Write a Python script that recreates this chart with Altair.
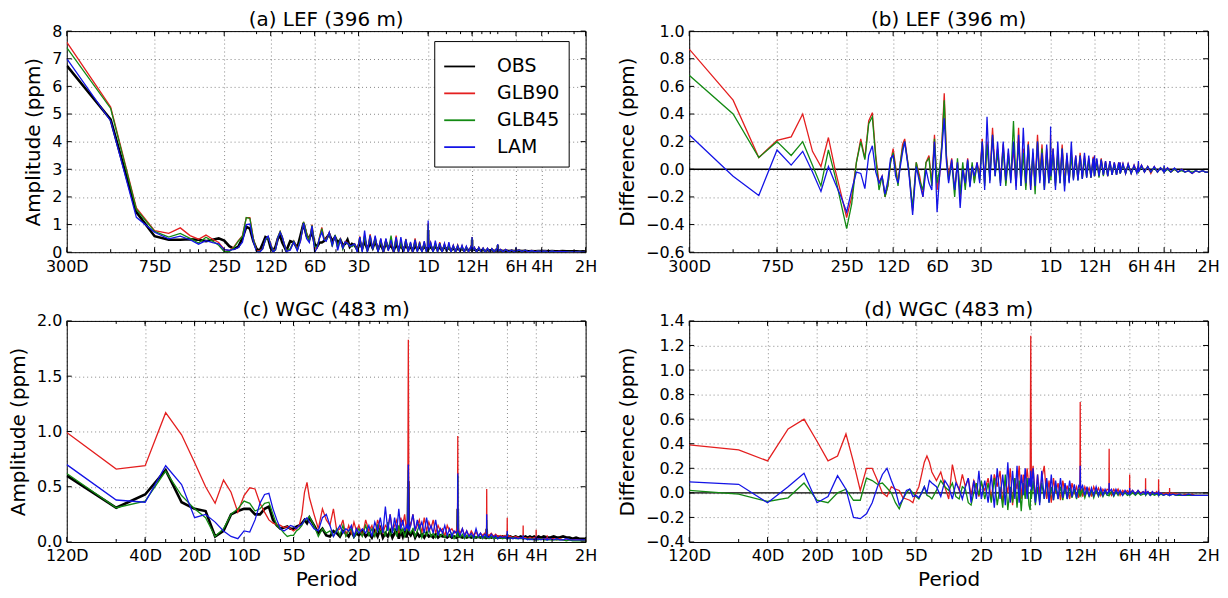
import altair as alt
import pandas as pd

FONT = "DejaVu Sans"
SERIES = ["OBS", "GLB90", "GLB45", "LAM"]
COLORS = ["#000000", "#e41f1f", "#138a13", "#1414e6"]
LINE_W = {"OBS": 2.6, "GLB90": 1.3, "GLB45": 1.3, "LAM": 1.3}

# ---------------- x tick definitions (harmonic number k on a log axis) ----------------
TOP_TICK_K = [1, 4, 12, 25, 50, 100, 300, 600, 1200, 1800, 3600]
TOP_TICK_LABELS = ["300D", "75D", "25D", "12D", "6D", "3D", "1D", "12H", "6H", "4H", "2H"]
BOT_TICK_K = [1, 3, 6, 12, 24, 60, 120, 240, 480, 720, 1440]
BOT_TICK_LABELS = ["120D", "40D", "20D", "10D", "5D", "2D", "1D", "12H", "6H", "4H", "2H"]
MINOR_BASE = [2, 3, 4, 5, 6, 7, 8, 9]

# ---------------- LEF (top row), record 300 days ----------------
K_TOP = ([1, 2, 3, 4, 5, 6, 7, 8, 9, 10, 11, 12, 13, 14, 15, 16, 17, 18, 19, 20, 21, 22, 23, 24, 25, 26, 27, 28, 29, 30]
         + [32, 34, 36, 38, 40, 42, 44, 46, 48, 50, 52, 54, 56, 58, 60]
         + [63, 66, 69, 72, 75, 78, 81, 84, 87, 90]
         + [94, 98, 102, 106, 110, 115, 120, 125, 130]
         + [136, 142, 148, 154, 160, 167, 174, 181, 188, 195]
         + [203, 211, 219, 227, 235, 244, 253, 262, 272, 282, 292]
         + [299, 300, 301]
         + [312, 324, 336, 348, 360, 374, 388, 402, 416, 430]
         + [446, 462, 478, 495, 512, 530, 548, 567, 587]
         + [599, 600, 601]
         + [622, 644, 667, 690, 714, 739, 765, 792, 820, 849, 879]
         + [899, 900, 901]
         + [940, 980, 1020, 1070, 1120, 1170]
         + [1199, 1200, 1201]
         + [1260, 1320, 1390, 1460, 1540, 1620, 1700]
         + [1799, 1800, 1801]
         + [1900, 2000, 2120, 2240, 2370, 2500, 2650, 2800, 2960, 3130, 3300, 3450, 3600])

A_OBS = ([6.75, 4.8, 1.45, 0.58, 0.45, 0.45, 0.47, 0.45, 0.4, 0.45, 0.5, 0.42, 0.22, 0.12, 0.2, 0.5, 0.92, 0.85, 0.4, 0.12, 0.05, 0.3, 0.55, 0.5, 0.15, 0.05, 0.2, 0.5, 0.6, 0.35]
         + [0.05, 0.4, 0.35, 0.15, 0.6, 1.05, 0.6, 0.5, 0.75, 0.3, 0.2, 0.35, 0.35, 0.4, 0.5]
         + [0.65, 0.4, 0.55, 0.35, 0.45, 0.25, 0.3, 0.45, 0.2, 0.3]
         + [0.25, 0.1, 0.35, 0.15, 0.4, 0.1, 0.35, 0.15, 0.4]
         + [0.1, 0.3, 0.05, 0.35, 0.15, 0.25, 0.05, 0.3, 0.1, 0.25]
         + [0.08, 0.28, 0.1, 0.22, 0.05, 0.25, 0.1, 0.2, 0.08, 0.22, 0.1]
         + [0.15, 0.8, 0.12]
         + [0.2, 0.08, 0.22, 0.1, 0.18, 0.06, 0.2, 0.1, 0.16, 0.07]
         + [0.15, 0.06, 0.14, 0.08, 0.13, 0.05, 0.12, 0.07, 0.11]
         + [0.1, 0.45, 0.08]
         + [0.1, 0.05, 0.1, 0.06, 0.09, 0.04, 0.08, 0.05, 0.08, 0.04, 0.07]
         + [0.06, 0.25, 0.06]
         + [0.06, 0.04, 0.06, 0.04, 0.05, 0.04]
         + [0.05, 0.1, 0.05]
         + [0.05, 0.04, 0.05, 0.03, 0.04, 0.03, 0.04]
         + [0.04, 0.07, 0.04]
         + [0.04, 0.03, 0.04, 0.03, 0.03, 0.04, 0.03, 0.03, 0.03, 0.03, 0.02, 0.03, 0.02])

A_GLB90 = ([7.6, 5.25, 1.6, 0.78, 0.68, 0.88, 0.6, 0.47, 0.62, 0.47, 0.35, 0.1, 0.05, 0.2, 0.42, 0.6, 1.25, 1.25, 0.5, 0.05, 0.05, 0.12, 0.45, 0.55, 0.3, 0.05, 0.12, 0.55, 0.75, 0.55]
           + [0.05, 0.1, 0.4, 0.12, 0.4, 1.1, 0.7, 0.4, 1.0, 0.15, 0.15, 0.55, 0.9, 0.5, 0.45]
           + [0.72, 0.25, 0.6, 0.15, 0.47, 0.13, 0.38, 0.35, 0.23, 0.22]
           + [0.3, 0.05, 0.57, 0.05, 0.6, 0.05, 0.65, 0.13, 0.55]
           + [0.02, 0.48, 0.0, 0.47, 0.1, 0.4, 0.0, 0.6, 0.0, 0.4]
           + [0.0, 0.48, 0.0, 0.32, 0.0, 0.5, 0.05, 0.38, 0.0, 0.37, 0.02]
           + [0.25, 1.05, 0.07]
           + [0.35, 0.0, 0.34, 0.02, 0.36, 0.0, 0.3, 0.02, 0.28, 0.01]
           + [0.25, 0.0, 0.26, 0.02, 0.23, 0.0, 0.2, 0.01, 0.2]
           + [0.06, 0.55, 0.03]
           + [0.17, 0.0, 0.18, 0.02, 0.15, 0.0, 0.14, 0.01, 0.13, 0.0, 0.12]
           + [0.03, 0.28, 0.03]
           + [0.1, 0.01, 0.1, 0.01, 0.08, 0.02]
           + [0.08, 0.15, 0.03]
           + [0.08, 0.02, 0.07, 0.0, 0.06, 0.01, 0.05]
           + [0.02, 0.09, 0.02]
           + [0.05, 0.01, 0.04, 0.01, 0.03, 0.02, 0.02, 0.0, 0.02, 0.01, 0.01, 0.01, 0.0])

A_GLB45 = ([7.4, 5.2, 1.55, 0.75, 0.55, 0.68, 0.5, 0.33, 0.54, 0.4, 0.25, 0.02, 0.02, 0.17, 0.4, 0.57, 1.25, 1.22, 0.48, 0.02, 0.02, 0.12, 0.43, 0.55, 0.27, 0.05, 0.08, 0.55, 0.75, 0.55]
           + [0.05, 0.12, 0.4, 0.07, 0.45, 1.1, 0.68, 0.38, 0.97, 0.2, 0.2, 0.53, 0.85, 0.48, 0.42]
           + [0.7, 0.2, 0.63, 0.17, 0.5, 0.1, 0.36, 0.33, 0.25, 0.2]
           + [0.29, 0.02, 0.55, 0.03, 0.58, 0.02, 0.6, 0.1, 0.52]
           + [0.0, 0.45, 0.0, 0.45, 0.07, 0.6, 0.0, 0.5, 0.0, 0.37]
           + [0.0, 0.46, 0.0, 0.34, 0.0, 0.45, 0.02, 0.35, 0.0, 0.34, 0.0]
           + [0.23, 1.0, 0.04]
           + [0.32, 0.0, 0.32, 0.0, 0.33, 0.0, 0.28, 0.01, 0.26, 0.0]
           + [0.23, 0.0, 0.24, 0.01, 0.21, 0.0, 0.19, 0.01, 0.18]
           + [0.05, 0.53, 0.03]
           + [0.16, 0.0, 0.17, 0.01, 0.14, 0.0, 0.13, 0.01, 0.12, 0.0, 0.11]
           + [0.03, 0.27, 0.03]
           + [0.09, 0.01, 0.09, 0.01, 0.07, 0.02]
           + [0.07, 0.14, 0.03]
           + [0.07, 0.02, 0.07, 0.01, 0.05, 0.01, 0.05]
           + [0.02, 0.09, 0.02]
           + [0.04, 0.01, 0.04, 0.01, 0.02, 0.02, 0.02, 0.01, 0.02, 0.01, 0.01, 0.01, 0.0])

A_LAM = ([7.0, 4.75, 1.26, 0.72, 0.48, 0.58, 0.45, 0.29, 0.42, 0.35, 0.3, 0.09, 0.07, 0.1, 0.17, 0.36, 1.0, 1.02, 0.38, 0.02, 0.0, 0.12, 0.47, 0.58, 0.25, 0.0, 0.1, 0.52, 0.72, 0.55]
         + [0.03, 0.07, 0.37, 0.05, 0.4, 1.05, 0.5, 0.35, 0.95, 0.0, 0.15, 0.5, 0.72, 0.45, 0.4]
         + [0.72, 0.25, 0.6, 0.07, 0.45, 0.15, 0.37, 0.32, 0.22, 0.25]
         + [0.3, 0.0, 0.55, 0.0, 0.78, 0.0, 0.6, 0.1, 0.6]
         + [0.0, 0.5, 0.0, 0.5, 0.05, 0.45, 0.0, 0.55, 0.0, 0.55]
         + [0.0, 0.46, 0.0, 0.37, 0.0, 0.45, 0.0, 0.32, 0.0, 0.4, 0.0]
         + [0.25, 1.15, 0.07]
         + [0.35, 0.0, 0.42, 0.0, 0.33, 0.0, 0.32, 0.0, 0.36, 0.0]
         + [0.25, 0.0, 0.24, 0.01, 0.25, 0.0, 0.22, 0.01, 0.19]
         + [0.05, 0.55, 0.04]
         + [0.18, 0.0, 0.17, 0.02, 0.15, 0.0, 0.14, 0.01, 0.13, 0.0, 0.12]
         + [0.03, 0.3, 0.03]
         + [0.1, 0.01, 0.1, 0.01, 0.08, 0.01]
         + [0.08, 0.18, 0.03]
         + [0.08, 0.02, 0.07, 0.01, 0.06, 0.01, 0.05]
         + [0.02, 0.1, 0.02]
         + [0.05, 0.01, 0.05, 0.01, 0.03, 0.02, 0.02, 0.0, 0.02, 0.01, 0.01, 0.01, 0.01])

B_GLB90 = ([0.87, 0.5, 0.085, 0.21, 0.235, 0.4, 0.13, 0.02, 0.23, 0.0, -0.18, -0.35, -0.2, 0.05, 0.22, 0.08, 0.35, 0.41, 0.1, -0.1, -0.05, -0.2, -0.12, 0.05, 0.15, 0.02, -0.1, 0.05, 0.18, 0.22]
           + [0.0, -0.3, 0.05, -0.05, -0.2, 0.05, 0.1, -0.1, 0.25, -0.15, -0.05, 0.2, 0.55, 0.1, -0.05]
           + [0.08, -0.15, 0.05, -0.2, 0.02, -0.12, 0.08, -0.1, 0.03, -0.08]
           + [0.05, -0.05, 0.22, -0.1, 0.2, -0.05, 0.3, -0.02, 0.15]
           + [-0.08, 0.18, -0.1, 0.12, -0.05, 0.15, -0.12, 0.3, -0.1, 0.15]
           + [-0.12, 0.2, -0.15, 0.1, -0.1, 0.25, -0.05, 0.18, -0.12, 0.15, -0.08]
           + [0.1, 0.25, -0.05]
           + [0.15, -0.1, 0.12, -0.08, 0.18, -0.1, 0.1, -0.08, 0.12, -0.06]
           + [0.1, -0.07, 0.12, -0.06, 0.1, -0.05, 0.08, -0.06, 0.09]
           + [-0.04, 0.1, -0.05]
           + [0.07, -0.05, 0.08, -0.04, 0.06, -0.05, 0.06, -0.04, 0.05, -0.04, 0.05]
           + [-0.03, 0.05, -0.03]
           + [0.04, -0.03, 0.04, -0.03, 0.03, -0.02]
           + [0.03, 0.05, -0.02]
           + [0.03, -0.02, 0.02, -0.03, 0.02, -0.02, 0.01]
           + [-0.02, 0.02, -0.02]
           + [0.01, -0.02, 0.0, -0.02, 0.0, -0.02, -0.01, -0.03, -0.01, -0.02, -0.01, -0.02, -0.02])

B_GLB45 = ([0.68, 0.4, 0.085, 0.2, 0.1, 0.2, 0.03, -0.12, 0.14, -0.05, -0.25, -0.43, -0.25, 0.05, 0.2, 0.07, 0.33, 0.38, 0.08, -0.15, -0.05, -0.2, -0.12, 0.05, 0.12, 0.0, -0.12, 0.05, 0.15, 0.2]
           + [0.0, -0.28, 0.05, -0.08, -0.15, 0.05, 0.08, -0.12, 0.22, -0.1, 0.0, 0.18, 0.5, 0.08, -0.08]
           + [0.05, -0.2, 0.08, -0.18, 0.05, -0.15, 0.06, -0.12, 0.05, -0.1]
           + [0.04, -0.08, 0.2, -0.12, 0.18, -0.08, 0.25, -0.05, 0.12]
           + [-0.1, 0.15, -0.12, 0.1, -0.08, 0.35, -0.1, 0.2, -0.12, 0.12]
           + [-0.15, 0.18, -0.12, 0.12, -0.18, 0.2, -0.08, 0.15, -0.15, 0.12, -0.1]
           + [0.08, 0.2, -0.08]
           + [0.12, -0.12, 0.1, -0.1, 0.15, -0.12, 0.08, -0.09, 0.1, -0.07]
           + [0.08, -0.08, 0.1, -0.07, 0.08, -0.06, 0.07, -0.06, 0.07]
           + [-0.05, 0.08, -0.05]
           + [0.06, -0.06, 0.07, -0.05, 0.05, -0.05, 0.05, -0.04, 0.04, -0.04, 0.04]
           + [-0.03, 0.04, -0.03]
           + [0.03, -0.03, 0.03, -0.03, 0.02, -0.02]
           + [0.02, 0.04, -0.02]
           + [0.02, -0.02, 0.02, -0.02, 0.01, -0.02, 0.01]
           + [-0.02, 0.02, -0.02]
           + [0.0, -0.02, 0.0, -0.02, -0.01, -0.02, -0.01, -0.02, -0.01, -0.02, -0.01, -0.02, -0.02])

B_LAM = ([0.25, -0.05, -0.19, 0.14, 0.03, 0.13, -0.02, -0.16, 0.02, -0.1, -0.2, -0.31, -0.15, -0.02, -0.03, -0.14, 0.1, 0.17, -0.02, -0.1, -0.05, -0.18, -0.08, 0.08, 0.1, -0.05, -0.1, 0.02, 0.12, 0.2]
         + [-0.02, -0.33, 0.02, -0.1, -0.2, 0.0, -0.1, -0.15, 0.2, -0.31, -0.05, 0.15, 0.37, 0.05, -0.1]
         + [0.07, -0.15, 0.05, -0.28, 0.0, -0.1, 0.07, -0.13, 0.02, -0.05]
         + [0.05, -0.1, 0.2, -0.15, 0.38, -0.1, 0.25, -0.05, 0.2]
         + [-0.12, 0.2, -0.08, 0.15, -0.1, 0.2, -0.15, 0.25, -0.12, 0.3]
         + [-0.1, 0.18, -0.15, 0.15, -0.12, 0.2, -0.1, 0.12, -0.15, 0.18, -0.1]
         + [0.1, 0.31, -0.05]
         + [0.15, -0.15, 0.2, -0.1, 0.15, -0.16, 0.12, -0.1, 0.2, -0.08]
         + [0.1, -0.08, 0.1, -0.07, 0.12, -0.06, 0.1, -0.06, 0.08]
         + [-0.05, 0.1, -0.04]
         + [0.08, -0.05, 0.07, -0.04, 0.06, -0.05, 0.06, -0.04, 0.05, -0.04, 0.05]
         + [-0.03, 0.05, -0.03]
         + [0.04, -0.03, 0.04, -0.03, 0.03, -0.03]
         + [0.03, 0.06, -0.02]
         + [0.03, -0.02, 0.02, -0.02, 0.02, -0.02, 0.01]
         + [-0.02, 0.03, -0.02]
         + [0.01, -0.02, 0.01, -0.02, 0.0, -0.02, -0.01, -0.03, -0.01, -0.02, -0.01, -0.02, -0.02])

# ---------------- WGC (bottom row), record 120 days ----------------
K_BOT = ([1, 2, 3, 4, 5, 6, 7, 8, 9, 10, 11, 12, 13, 14, 15, 16, 17, 18, 19, 20, 21, 22, 23, 24, 25, 26, 27, 28, 29, 30]
         + [32, 34, 36, 38, 40, 42, 44, 46, 48, 50, 52, 54, 56, 58, 60]
         + [63, 66, 69, 72, 75, 78, 81, 84, 87, 90, 93, 96, 99, 102, 105, 108, 111, 114, 117]
         + [119, 120, 121]
         + [124, 128, 132, 136, 140, 145, 150, 155, 160, 165, 170, 176, 182, 188, 194, 200, 207, 214, 221, 228, 235]
         + [239, 240, 241]
         + [248, 256, 264, 272, 281, 290, 300, 310, 320, 330, 340, 350]
         + [359, 360, 361]
         + [372, 384, 396, 408, 420, 435, 450, 465]
         + [479, 480, 481]
         + [500, 520, 540, 560, 580]
         + [599, 600, 601]
         + [620, 640, 660, 680, 700]
         + [719, 720, 721]
         + [745, 770, 800]
         + [839, 840, 841]
         + [880, 920, 960, 1000, 1050, 1100, 1150, 1200, 1260, 1320, 1380, 1440])

C_OBS = ([0.6, 0.31, 0.43, 0.65, 0.36, 0.3, 0.28, 0.05, 0.1, 0.25, 0.28, 0.3, 0.3, 0.25, 0.25, 0.3, 0.32, 0.2, 0.15, 0.12, 0.13, 0.14, 0.12, 0.12, 0.14, 0.15, 0.17, 0.2, 0.17, 0.22]
         + [0.15, 0.08, 0.12, 0.06, 0.05, 0.1, 0.08, 0.05, 0.1, 0.08, 0.05, 0.1, 0.05, 0.08, 0.06]
         + [0.1, 0.05, 0.08, 0.04, 0.1, 0.05, 0.12, 0.04, 0.08, 0.05, 0.1, 0.04, 0.08, 0.12, 0.03, 0.1, 0.05, 0.12, 0.04]
         + [0.1, 0.55, 0.08]
         + [0.06, 0.1, 0.04, 0.08, 0.05, 0.07, 0.04, 0.08, 0.05, 0.06, 0.04, 0.07, 0.04, 0.06, 0.05, 0.05, 0.04, 0.06, 0.04, 0.05, 0.04]
         + [0.05, 0.3, 0.05]
         + [0.05, 0.04, 0.05, 0.04, 0.05, 0.04, 0.05, 0.04, 0.05, 0.04, 0.05, 0.04]
         + [0.04, 0.12, 0.04]
         + [0.05, 0.04, 0.05, 0.04, 0.05, 0.04, 0.05, 0.04]
         + [0.04, 0.07, 0.04]
         + [0.05, 0.04, 0.05, 0.04, 0.05]
         + [0.04, 0.05, 0.04]
         + [0.05, 0.04, 0.05, 0.04, 0.05]
         + [0.04, 0.05, 0.04]
         + [0.05, 0.04, 0.05]
         + [0.04, 0.05, 0.04]
         + [0.04, 0.05, 0.04, 0.04, 0.05, 0.04, 0.04, 0.03, 0.04, 0.03, 0.03, 0.03])

C_GLB90 = ([0.99, 0.66, 0.69, 1.17, 0.97, 0.72, 0.5, 0.35, 0.56, 0.45, 0.27, 0.42, 0.49, 0.48, 0.35, 0.27, 0.2, 0.17, 0.16, 0.15, 0.13, 0.14, 0.12, 0.1, 0.12, 0.15, 0.25, 0.45, 0.54, 0.4]
           + [0.25, 0.12, 0.3, 0.2, 0.15, 0.3, 0.1, 0.12, 0.2, 0.05, 0.15, 0.08, 0.18, 0.1, 0.15]
           + [0.05, 0.2, 0.1, 0.15, 0.05, 0.2, 0.12, 0.08, 0.15, 0.12, 0.25, 0.1, 0.15, 0.2, 0.08, 0.22, 0.15, 0.25, 0.1]
           + [0.2, 1.83, 0.2]
           + [0.15, 0.25, 0.1, 0.15, 0.2, 0.08, 0.22, 0.1, 0.18, 0.12, 0.2, 0.08, 0.15, 0.1, 0.12, 0.05, 0.15, 0.1, 0.12, 0.08, 0.1]
           + [0.15, 0.96, 0.12]
           + [0.08, 0.12, 0.06, 0.1, 0.05, 0.1, 0.06, 0.09, 0.05, 0.08, 0.06, 0.08]
           + [0.08, 0.48, 0.07]
           + [0.06, 0.08, 0.05, 0.07, 0.05, 0.06, 0.05, 0.06]
           + [0.05, 0.22, 0.05]
           + [0.05, 0.04, 0.05, 0.04, 0.04]
           + [0.04, 0.15, 0.04]
           + [0.04, 0.03, 0.04, 0.03, 0.04]
           + [0.03, 0.11, 0.03]
           + [0.03, 0.03, 0.03]
           + [0.03, 0.06, 0.03]
           + [0.03, 0.03, 0.02, 0.03, 0.02, 0.02, 0.02, 0.02, 0.02, 0.02, 0.01, 0.02])

C_GLB45 = ([0.62, 0.31, 0.37, 0.64, 0.42, 0.3, 0.22, 0.05, 0.12, 0.25, 0.3, 0.37, 0.35, 0.28, 0.3, 0.35, 0.36, 0.25, 0.15, 0.12, 0.08, 0.05, 0.06, 0.06, 0.1, 0.12, 0.15, 0.2, 0.2, 0.23]
           + [0.15, 0.05, 0.12, 0.08, 0.1, 0.05, 0.12, 0.06, 0.15, 0.05, 0.1, 0.12, 0.04, 0.08, 0.12]
           + [0.05, 0.15, 0.06, 0.12, 0.05, 0.15, 0.08, 0.12, 0.05, 0.18, 0.06, 0.1, 0.12, 0.05, 0.15, 0.08, 0.12, 0.05, 0.1]
           + [0.12, 0.65, 0.1]
           + [0.08, 0.12, 0.05, 0.1, 0.15, 0.04, 0.1, 0.06, 0.12, 0.05, 0.08, 0.04, 0.1, 0.05, 0.08, 0.04, 0.07, 0.05, 0.08, 0.03, 0.06]
           + [0.05, 0.6, 0.05]
           + [0.04, 0.07, 0.03, 0.06, 0.04, 0.06, 0.03, 0.05, 0.04, 0.05, 0.03, 0.05]
           + [0.04, 0.2, 0.04]
           + [0.03, 0.05, 0.03, 0.04, 0.03, 0.04, 0.03, 0.04]
           + [0.03, 0.08, 0.03]
           + [0.03, 0.04, 0.03, 0.03, 0.03]
           + [0.03, 0.05, 0.03]
           + [0.03, 0.03, 0.02, 0.03, 0.02]
           + [0.02, 0.04, 0.02]
           + [0.02, 0.03, 0.02]
           + [0.02, 0.03, 0.02]
           + [0.02, 0.02, 0.02, 0.02, 0.02, 0.01, 0.02, 0.01, 0.01, 0.01, 0.01, 0.01])

C_LAM = ([0.7, 0.38, 0.36, 0.69, 0.52, 0.22, 0.25, 0.18, 0.1, 0.05, 0.03, 0.1, 0.09, 0.2, 0.35, 0.43, 0.44, 0.3, 0.2, 0.12, 0.1, 0.12, 0.15, 0.14, 0.12, 0.15, 0.16, 0.2, 0.22, 0.18]
         + [0.12, 0.1, 0.22, 0.25, 0.15, 0.05, 0.1, 0.15, 0.08, 0.12, 0.1, 0.15, 0.05, 0.12, 0.08]
         + [0.12, 0.08, 0.15, 0.05, 0.18, 0.1, 0.22, 0.08, 0.32, 0.1, 0.25, 0.08, 0.22, 0.1, 0.3, 0.12, 0.2, 0.1, 0.15]
         + [0.12, 0.7, 0.1]
         + [0.15, 0.25, 0.1, 0.2, 0.12, 0.18, 0.08, 0.22, 0.1, 0.15, 0.08, 0.2, 0.06, 0.12, 0.08, 0.15, 0.06, 0.12, 0.05, 0.1, 0.08]
         + [0.1, 0.62, 0.1]
         + [0.06, 0.12, 0.05, 0.1, 0.05, 0.08, 0.04, 0.12, 0.05, 0.08, 0.04, 0.07]
         + [0.05, 0.25, 0.05]
         + [0.04, 0.07, 0.04, 0.06, 0.03, 0.05, 0.04, 0.05]
         + [0.03, 0.1, 0.03]
         + [0.04, 0.03, 0.04, 0.03, 0.04]
         + [0.03, 0.06, 0.03]
         + [0.03, 0.02, 0.03, 0.02, 0.03]
         + [0.02, 0.05, 0.02]
         + [0.03, 0.02, 0.03]
         + [0.02, 0.04, 0.02]
         + [0.03, 0.02, 0.03, 0.02, 0.02, 0.03, 0.02, 0.02, 0.02, 0.02, 0.02, 0.02])

D_GLB90 = ([0.39, 0.35, 0.26, 0.52, 0.6, 0.42, 0.26, 0.3, 0.48, 0.25, 0.02, 0.2, 0.2, 0.1, 0.0, -0.03, 0.05, 0.03, 0.02, -0.04, -0.05, -0.06, -0.08, 0.0, 0.05, 0.15, 0.25, 0.3, 0.25, 0.17]
           + [0.1, 0.17, 0.05, -0.05, 0.23, 0.1, 0.02, 0.15, 0.05, 0.12, -0.02, 0.1, 0.05, -0.03, 0.08]
           + [0.02, 0.12, -0.05, 0.15, 0.05, 0.18, -0.08, 0.1, 0.0, 0.2, -0.1, 0.12, 0.03, 0.22, -0.05, 0.15, 0.0, 0.2, 0.05]
           + [0.1, 1.28, 0.1]
           + [0.22, -0.05, 0.15, 0.0, 0.12, 0.22, -0.05, 0.1, -0.08, 0.12, 0.0, 0.08, -0.06, 0.1, 0.0, 0.06, -0.05, 0.08, 0.0, 0.05, -0.04]
           + [0.05, 0.74, 0.05]
           + [-0.03, 0.05, 0.0, 0.04, -0.03, 0.05, 0.0, 0.04, -0.02, 0.03, 0.0, 0.03]
           + [0.02, 0.36, 0.02]
           + [-0.02, 0.03, 0.0, 0.03, -0.02, 0.02, 0.0, 0.02]
           + [0.0, 0.15, 0.0]
           + [0.02, -0.01, 0.02, 0.0, 0.01]
           + [0.0, 0.12, 0.0]
           + [0.01, -0.01, 0.01, -0.01, 0.01]
           + [-0.01, 0.11, -0.01]
           + [0.0, -0.01, 0.0]
           + [-0.01, 0.04, -0.01]
           + [0.0, -0.01, -0.01, -0.02, -0.01, -0.02, -0.01, -0.02, -0.02, -0.02, -0.02, -0.02])

D_GLB45 = ([0.02, -0.01, -0.07, -0.04, 0.08, -0.06, -0.08, 0.0, 0.03, -0.06, -0.06, 0.12, 0.1, 0.07, 0.08, 0.04, 0.0, -0.08, -0.13, -0.05, 0.0, 0.03, 0.0, -0.03, -0.05, 0.0, 0.05, -0.02, -0.03, -0.05]
           + [0.02, 0.1, 0.05, 0.02, 0.08, -0.03, -0.05, 0.05, 0.03, -0.08, -0.1, 0.0, 0.08, -0.02, 0.1]
           + [-0.05, 0.08, -0.08, 0.12, -0.1, 0.05, -0.12, 0.15, -0.14, 0.05, -0.08, 0.12, -0.12, 0.1, -0.15, 0.08, -0.05, 0.12, -0.1]
           + [-0.14, 0.03, -0.05]
           + [0.1, -0.1, 0.05, -0.08, 0.08, -0.05, 0.1, -0.08, 0.05, -0.06, 0.06, -0.05, 0.05, -0.06, 0.04, -0.05, 0.04, -0.04, 0.03, -0.05, 0.03]
           + [-0.03, 0.05, -0.03]
           + [0.03, -0.04, 0.02, -0.03, 0.02, -0.04, 0.02, -0.03, 0.01, -0.03, 0.01, -0.02]
           + [-0.02, 0.03, -0.02]
           + [0.01, -0.03, 0.01, -0.02, 0.01, -0.02, 0.0, -0.02]
           + [-0.01, 0.02, -0.02]
           + [0.0, -0.02, 0.0, -0.02, -0.01]
           + [-0.01, 0.01, -0.02]
           + [0.0, -0.02, -0.01, -0.02, -0.01]
           + [-0.02, 0.0, -0.02]
           + [-0.01, -0.02, -0.01]
           + [-0.02, -0.01, -0.02]
           + [-0.01, -0.02, -0.02, -0.02, -0.02, -0.02, -0.02, -0.02, -0.02, -0.02, -0.02, -0.02])

D_LAM = ([0.09, 0.07, -0.08, 0.05, 0.16, -0.08, -0.03, 0.14, 0.03, -0.2, -0.21, -0.17, -0.08, 0.05, 0.15, 0.2, 0.1, 0.02, -0.1, -0.05, 0.02, 0.03, -0.03, -0.02, -0.04, 0.0, 0.05, 0.0, 0.1, 0.08]
         + [0.05, -0.03, 0.1, 0.05, -0.05, 0.08, 0.03, -0.05, 0.05, 0.12, -0.08, 0.1, -0.05, 0.18, -0.05]
         + [0.1, -0.08, 0.15, -0.12, 0.2, -0.05, 0.15, -0.1, 0.25, -0.08, 0.18, -0.05, 0.22, -0.08, 0.15, -0.02, 0.2, -0.05, 0.12]
         + [0.05, 0.18, 0.02]
         + [0.2, -0.08, 0.15, -0.1, 0.18, -0.05, 0.12, -0.08, 0.15, -0.06, 0.1, -0.05, 0.12, -0.04, 0.08, -0.05, 0.1, -0.03, 0.07, -0.04, 0.06]
         + [0.05, 0.22, 0.03]
         + [0.06, -0.02, 0.05, -0.03, 0.04, -0.02, 0.05, -0.02, 0.04, -0.02, 0.03, -0.01]
         + [0.02, 0.08, 0.01]
         + [0.03, -0.02, 0.03, -0.01, 0.02, -0.02, 0.02, -0.01]
         + [0.0, 0.04, -0.01]
         + [0.02, -0.01, 0.02, -0.01, 0.01]
         + [-0.01, 0.03, -0.01]
         + [0.01, -0.02, 0.01, -0.01, 0.0]
         + [-0.01, 0.02, -0.02]
         + [0.0, -0.02, -0.01]
         + [-0.02, 0.0, -0.02]
         + [-0.01, -0.02, -0.01, -0.02, -0.02, -0.01, -0.02, -0.02, -0.02, -0.02, -0.02, -0.02])

# ---------------- helpers ----------------
W, H = 521, 222


def check(name, k, vals):
    if len(k) != len(vals):
        raise ValueError(f"{name}: {len(vals)} values for {len(k)} harmonics")


def label_expr(ks, labels):
    expr = "''"
    for kv, lab in reversed(list(zip(ks, labels))):
        expr = f"(abs(datum.value - {kv}) < 0.01 ? '{lab}' : {expr})"
    return expr


def panel(title, k, series, kmax, tick_k, tick_labels, ydom, yvals, yfmt, ytitle, xtitle,
          legend=None, zero=False):
    xscale = alt.Scale(type="log", domain=[1, kmax], nice=False)
    yscale = alt.Scale(domain=ydom, nice=False, zero=False)
    xaxis = alt.Axis(values=tick_k, labelExpr=label_expr(tick_k, tick_labels), grid=True,
                     ticks=False, domain=False, labelOverlap=False, labelFlush=False,
                     labelPadding=6, title=xtitle, titlePadding=6)
    yaxis = alt.Axis(values=yvals, format=yfmt, grid=True, ticks=False, domain=False,
                     labelPadding=5, title=ytitle, titlePadding=8, labelOverlap=False)
    cscale = alt.Scale(domain=SERIES, range=COLORS)
    X = alt.X("k:Q", scale=xscale, axis=xaxis)
    Y = alt.Y("v:Q", scale=yscale, axis=yaxis)

    layers = []
    if zero:
        layers.append(alt.Chart(pd.DataFrame({"v": [0.0]})).mark_rule(
            color="black", strokeWidth=1.4).encode(y=Y))
    for name, vals in series:
        check(title + " " + name, k, vals)
        df = pd.DataFrame({"k": k, "v": vals, "s": name})
        layers.append(alt.Chart(df).mark_line(clip=True, strokeWidth=LINE_W[name]).encode(
            x=X, y=Y, color=alt.Color("s:N", scale=cscale, legend=legend)))

    minor = [b * 10 ** e for e in range(4) for b in MINOR_BASE if b * 10 ** e < kmax]
    maj = pd.DataFrame({"k": tick_k})
    mnr = pd.DataFrame({"k": minor})
    yt = pd.DataFrame({"v": yvals})
    tick = dict(color="black", strokeWidth=1)
    layers += [
        alt.Chart(maj).mark_rule(**tick).encode(x=X, y=alt.value(0), y2=alt.value(5)),
        alt.Chart(maj).mark_rule(**tick).encode(x=X, y=alt.value(H - 5), y2=alt.value(H)),
        alt.Chart(mnr).mark_rule(**tick).encode(x=X, y=alt.value(0), y2=alt.value(3)),
        alt.Chart(mnr).mark_rule(**tick).encode(x=X, y=alt.value(H - 3), y2=alt.value(H)),
        alt.Chart(yt).mark_rule(**tick).encode(y=Y, x=alt.value(0), x2=alt.value(5)),
        alt.Chart(yt).mark_rule(**tick).encode(y=Y, x=alt.value(W - 5), x2=alt.value(W)),
    ]
    return alt.layer(*layers).properties(
        width=W, height=H,
        title=alt.TitleParams(title, font=FONT, fontSize=20, fontWeight="normal",
                              color="black", offset=-7, anchor="middle"))


legend_a = alt.Legend(title=None, orient="none", legendX=369, legendY=10, symbolType="stroke",
                      symbolSize=961, symbolStrokeWidth=1.8, labelFont=FONT, labelFontSize=19,
                      labelColor="black", labelOffset=21, rowPadding=-1, padding=9,
                      labelExpr="datum.label + '\u00a0\u00a0'",
                      strokeColor="black", fillColor="white", cornerRadius=0, labelLimit=300)

Y_A = [0, 1, 2, 3, 4, 5, 6, 7, 8]
Y_B = [-0.6, -0.4, -0.2, 0.0, 0.2, 0.4, 0.6, 0.8, 1.0]
Y_C = [0.0, 0.5, 1.0, 1.5, 2.0]
Y_D = [-0.4, -0.2, 0.0, 0.2, 0.4, 0.6, 0.8, 1.0, 1.2, 1.4]

pa = panel("(a) LEF (396 m)", K_TOP,
           [("OBS", A_OBS), ("GLB90", A_GLB90), ("GLB45", A_GLB45), ("LAM", A_LAM)],
           3600, TOP_TICK_K, TOP_TICK_LABELS, [0, 8], Y_A, "d", "Amplitude (ppm)", None,
           legend=legend_a)
pb = panel("(b) LEF (396 m)", K_TOP,
           [("GLB90", B_GLB90), ("GLB45", B_GLB45), ("LAM", B_LAM)],
           3600, TOP_TICK_K, TOP_TICK_LABELS, [-0.6, 1.0], Y_B, ".1f", "Difference (ppm)", None,
           zero=True)
pc = panel("(c) WGC (483 m)", K_BOT,
           [("OBS", C_OBS), ("GLB90", C_GLB90), ("GLB45", C_GLB45), ("LAM", C_LAM)],
           1440, BOT_TICK_K, BOT_TICK_LABELS, [0, 2.0], Y_C, ".1f", "Amplitude (ppm)", "Period")
pd_ = panel("(d) WGC (483 m)", K_BOT,
            [("GLB90", D_GLB90), ("GLB45", D_GLB45), ("LAM", D_LAM)],
            1440, BOT_TICK_K, BOT_TICK_LABELS, [-0.4, 1.4], Y_D, ".1f", "Difference (ppm)", "Period",
            zero=True)

chart = alt.concat(pa, pb, pc, pd_, columns=2, spacing={"row": 24, "column": 19}).resolve_scale(
    x="independent", y="independent", color="independent"
).configure_view(stroke="black", strokeWidth=1).configure_axis(
    labelFont=FONT, labelFontSize=16, labelColor="black",
    titleFont=FONT, titleFontSize=20, titleFontWeight="normal", titleColor="black",
    gridColor="black", gridOpacity=0.6, gridDash=[1, 3], gridWidth=0.8,
).properties(padding=0, background="white")

chart.save("out.html", embed_options={"renderer": "svg", "actions": False})
